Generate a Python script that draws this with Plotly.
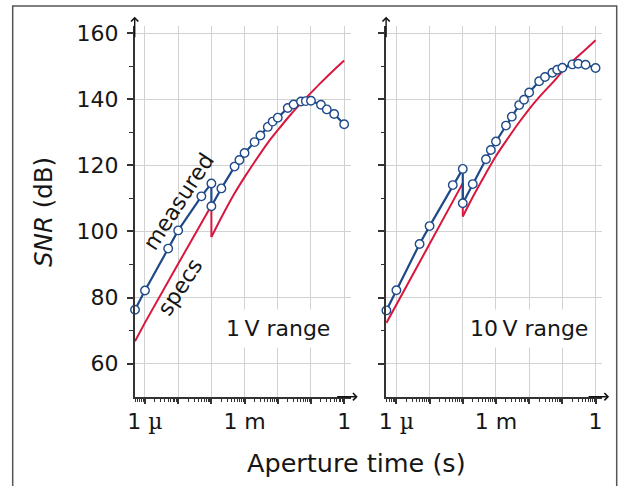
import numpy as np
import plotly.graph_objects as go

# ---------------- data ----------------
# 1 V range (left panel)
t_meas_1v = [0.5e-6, 1e-6, 5e-6, 1e-5, 5e-5, 1e-4, 1e-4, 2e-4, 5e-4, 7e-4, 1e-3, 2e-3, 3e-3,
             5e-3, 7e-3, 1e-2, 2e-2, 3e-2, 5e-2, 7e-2, 0.1, 0.2, 0.3, 0.5, 1.0]
snr_meas_1v = [76.3, 82.1, 94.8, 100.3, 110.6, 114.5, 107.6, 113.0, 119.6, 121.6, 123.7, 127.0, 129.0,
               131.6, 133.2, 134.4, 137.3, 138.4, 139.3, 139.4, 139.5, 138.3, 136.9, 135.5, 132.4]
t_spec_1v = [0.5e-6, 1e-6, 1e-5, 1e-4, 1e-4, 2e-4, 5e-4, 1e-3, 2e-3, 5e-3, 1e-2, 2e-2, 5e-2,
             0.1, 0.2, 0.5, 1.0]
snr_spec_1v = [66.8, 72.4, 90.2, 107.8, 98.3, 104.2, 111.5, 116.4, 121.0, 126.8, 130.6, 134.3, 138.8,
               141.9, 145.0, 148.9, 151.7]

# 10 V range (right panel)
t_meas_10v = [0.5e-6, 1e-6, 5e-6, 1e-5, 5e-5, 1e-4, 1e-4, 2e-4, 5e-4, 7e-4, 1e-3, 2e-3, 3e-3,
              5e-3, 7e-3, 1e-2, 2e-2, 3e-2, 5e-2, 7e-2, 0.1, 0.2, 0.3, 0.5, 1.0]
snr_meas_10v = [76.1, 82.2, 96.2, 101.6, 114.0, 118.9, 108.5, 114.3, 121.8, 124.6, 127.2, 132.0, 134.7,
                138.2, 139.8, 142.0, 145.4, 146.7, 148.0, 148.9, 149.5, 150.5, 150.7, 150.4, 149.4]
t_spec_10v = [0.5e-6, 1e-6, 1e-5, 1e-4, 1e-4, 2e-4, 5e-4, 1e-3, 2e-3, 5e-3, 1e-2, 2e-2, 5e-2,
              0.1, 0.2, 0.5, 1.0]
snr_spec_10v = [72.3, 77.8, 96.2, 114.6, 104.5, 110.4, 117.6, 122.8, 127.3, 133.0, 137.0, 140.6, 144.9,
                148.4, 151.4, 155.0, 157.8]

major_x = [1e-6, 1e-5, 1e-4, 1e-3, 1e-2, 1e-1, 1.0]
major_x_text = ["1 <span style=\"font-family:'DejaVu Serif'\">µ</span>", "", "", "1 m", "", "", "1"]
minor_x = [k * 10.0 ** e for e in range(-7, 0) for k in range(2, 10) if k * 10.0 ** e >= 0.5e-6]
major_y = [60, 80, 100, 120, 140, 160]
minor_y = [70, 90, 110, 130, 150]
panel_labels = ["1\u2009V range", "10\u2009V range"]

# ---------------- styling ----------------
W, H = 621, 486
BLUE = "#1f4a8a"
RED = "#d8173e"
AX = "#333333"
GRID = "#d2d2d2"
TXT = "#161616"
FONT = "DejaVu Sans"
FS = 22

xr = [-6.31, 0.2]
yr = [50, 162]
ydom = [(H - 396.7) / H, (H - 26.4) / H]
xdoms = [[134.7 / W, 350.8 / W], [386.1 / W, 602.2 / W]]

fig = go.Figure()

panels = [(t_meas_1v, snr_meas_1v, t_spec_1v, snr_spec_1v),
          (t_meas_10v, snr_meas_10v, t_spec_10v, snr_spec_10v)]

for i, (tm, sm, ts, ss) in enumerate(panels):
    xa = "x" if i == 0 else "x2"
    ya = "y" if i == 0 else "y2"
    # split spec at the step (second occurrence of the same time value)
    k = next(j for j in range(1, len(ts)) if ts[j] == ts[j - 1])
    fig.add_trace(go.Scatter(x=ts[:k + 1], y=ss[:k + 1], mode="lines", line=dict(color=RED, width=2),
                             xaxis=xa, yaxis=ya, showlegend=False, cliponaxis=False))
    fig.add_trace(go.Scatter(x=ts[k:], y=ss[k:], mode="lines",
                             line=dict(color=RED, width=2, shape="spline", smoothing=0.8),
                             xaxis=xa, yaxis=ya, showlegend=False, cliponaxis=False))
    fig.add_trace(go.Scatter(x=tm, y=sm, mode="lines+markers", line=dict(color=BLUE, width=2.2),
                             marker=dict(size=8.5, color="white", line=dict(color=BLUE, width=1.4)),
                             xaxis=xa, yaxis=ya, showlegend=False, cliponaxis=False))

layout = dict(width=W, height=H, margin=dict(l=0, r=0, t=0, b=0), template="none",
              paper_bgcolor="white", plot_bgcolor="white", showlegend=False,
              font=dict(family=FONT, size=FS, color=TXT))


def xaxis_main(dom, anchor):
    return dict(type="log", range=xr, domain=dom, anchor=anchor, showline=True, linecolor=AX,
                linewidth=1.5, tickmode="array", tickvals=major_x, ticktext=major_x_text,
                ticks="outside", ticklen=6, tickwidth=1.5, tickcolor=AX, showgrid=True,
                gridcolor=GRID, gridwidth=1.3, zeroline=False, automargin=False,
                tickfont=dict(family=FONT, size=FS, color=TXT), ticklabelstandoff=-2,
                minor=dict(tickmode="array", tickvals=minor_x, ticks="outside", ticklen=3.5,
                           tickwidth=1, tickcolor=AX, showgrid=False))


def xaxis_over(over, anchor):
    return dict(type="log", range=xr, overlaying=over, anchor=anchor, showline=False,
                tickmode="array", tickvals=major_x, ticks="inside", ticklen=6, tickwidth=1.5,
                tickcolor=AX, showticklabels=False, showgrid=False, zeroline=False, automargin=False,
                minor=dict(tickmode="array", tickvals=minor_x, ticks="inside", ticklen=3.5,
                           tickwidth=1, tickcolor=AX, showgrid=False))


def yaxis_main(anchor, labels):
    return dict(range=yr, domain=ydom, anchor=anchor, showline=True, linecolor=AX, linewidth=1.5,
                tickmode="array", tickvals=major_y, ticks="outside", ticklen=6, tickwidth=1.5,
                tickcolor=AX, showgrid=True, gridcolor=GRID, gridwidth=1.3, zeroline=False,
                showticklabels=labels, automargin=False, ticklabelstandoff=4,
                tickfont=dict(family=FONT, size=FS, color=TXT),
                minor=dict(tickmode="array", tickvals=minor_y, ticks="outside", ticklen=3.5,
                           tickwidth=1, tickcolor=AX, showgrid=False))


def yaxis_over(over, anchor):
    return dict(range=yr, overlaying=over, anchor=anchor, showline=False, tickmode="array",
                tickvals=major_y, ticks="inside", ticklen=6, tickwidth=1.5, tickcolor=AX,
                showticklabels=False, showgrid=False, zeroline=False, automargin=False,
                minor=dict(tickmode="array", tickvals=minor_y, ticks="inside", ticklen=3.5,
                           tickwidth=1, tickcolor=AX, showgrid=False))


layout["xaxis"] = xaxis_main(xdoms[0], "y")
layout["xaxis2"] = xaxis_main(xdoms[1], "y2")
layout["yaxis"] = yaxis_main("x", True)
layout["yaxis2"] = yaxis_main("x2", False)
layout["xaxis3"] = xaxis_over("x", "y")
layout["xaxis4"] = xaxis_over("x2", "y2")
layout["yaxis3"] = yaxis_over("y", "x")
layout["yaxis4"] = yaxis_over("y2", "x2")

fig.update_layout(**layout)

ann = []
for i in range(2):
    xr_ = "x domain" if i == 0 else "x2 domain"
    yr_ = "y domain" if i == 0 else "y2 domain"
    # axis arrows
    ann.append(dict(xref=xr_, yref=yr_, x=1.032, y=0, ax=-22, ay=0, text="", showarrow=True,
                    arrowhead=4, arrowsize=1, arrowwidth=1.4, arrowcolor="#111"))
    ann.append(dict(xref=xr_, yref=yr_, x=0, y=1.026, ax=0, ay=22, text="", showarrow=True,
                    arrowhead=4, arrowsize=1, arrowwidth=1.4, arrowcolor="#111"))

# panel range labels
ann.append(dict(xref="x", yref="y", x=-1.98, y=70.7, text=panel_labels[0], showarrow=False,
                xanchor="center", yanchor="middle",
                bgcolor="white", borderpad=6, font=dict(size=FS, color=TXT)))
ann.append(dict(xref="x2", yref="y2", x=-2.0, y=70.7, text=panel_labels[1], showarrow=False,
                xanchor="center", yanchor="middle",
                bgcolor="white", borderpad=6, font=dict(size=FS, color=TXT)))
# curve labels
ann.append(dict(xref="x", yref="y", x=-4.98, y=108.9, text="measured", showarrow=False,
                xanchor="center", yanchor="middle", textangle=-57, font=dict(size=FS, color=TXT)))
ann.append(dict(xref="x", yref="y", x=-4.93, y=83.2, text="specs", showarrow=False,
                xanchor="center", yanchor="middle", textangle=-57, font=dict(size=FS, color=TXT)))
# axis titles
ann.append(dict(xref="paper", yref="paper", x=43 / W, y=(H - 212) / H, text="<i>SNR</i> (dB)",
                xanchor="center", yanchor="middle",
                showarrow=False, textangle=-90, font=dict(size=24.5, color=TXT)))
ann.append(dict(xref="paper", yref="paper", x=356 / W, y=(H - 463) / H, text="Aperture time (s)",
                xanchor="center", yanchor="middle",
                showarrow=False, font=dict(size=25.5, color=TXT)))
fig.update_layout(annotations=ann)

fig.add_shape(type="rect", xref="paper", yref="paper", x0=12.7 / W, x1=616.7 / W, y0=-0.1,
              y1=(H - 6) / H, line=dict(color="#555555", width=1.5), layer="above")

fig.write_html("out.html")
